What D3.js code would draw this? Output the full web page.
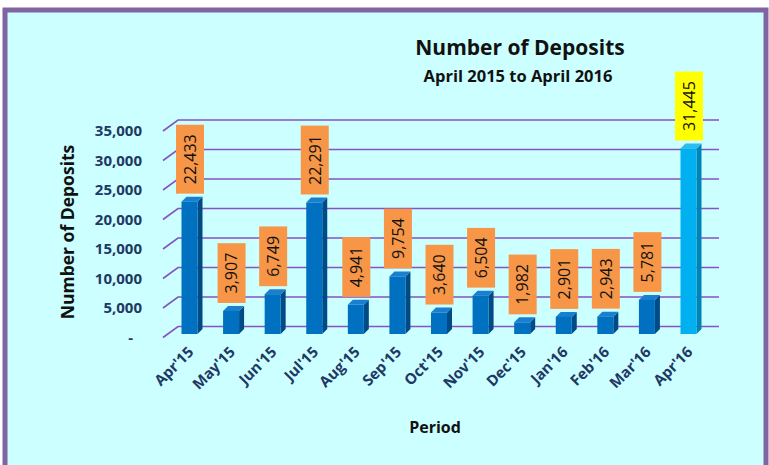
<!DOCTYPE html>
<html>
<head>
<meta charset="utf-8">
<script src="https://cdn.jsdelivr.net/npm/d3@7"></script>
<style>
  body { margin: 0; background: #fff; }
  svg { display: block; font-family: "Open Sans", sans-serif; }
</style>
</head>
<body>
<svg width="769" height="465"></svg>
<script>
// data
var months = ["Apr'15", "May'15", "Jun'15", "Jul'15", "Aug'15", "Sep'15", "Oct'15",
              "Nov'15", "Dec'15", "Jan'16", "Feb'16", "Mar'16", "Apr'16"];
var deposits = [22433, 3907, 6749, 22291, 4941, 9754, 3640, 6504, 1982, 2901, 2943, 5781, 31445];
var yTicks = [0, 5000, 10000, 15000, 20000, 25000, 30000, 35000];

var data = months.map(function (m, i) { return { month: m, value: deposits[i], last: i === months.length - 1 }; });

var svg = d3.select("svg");

// frame
svg.append("rect")
  .attr("x", 5).attr("y", 10)
  .attr("width", 761).attr("height", 470)
  .attr("fill", "#ccffff")
  .attr("stroke", "#8064a2").attr("stroke-width", 5);

var xScale = d3.scalePoint().domain(months).range([189.5, 688.5]);
var yScale = d3.scaleLinear().domain([0, 35000]).range([326.5, 120]);

var fmt = d3.format(",");
var depthX = 15, depthY = 11; // wall slant

// gridlines on back wall + slant on side wall
var grid = svg.append("g");
yTicks.forEach(function (t) {
  var y = yScale(t);
  grid.append("path")
    .attr("d", "M" + (178 - depthX) + "," + (y + depthY) + "L178," + y + "L719," + y)
    .attr("fill", "none")
    .attr("stroke", "#8553c2")
    .attr("stroke-width", 1.6);
});

// y axis labels (front plane)
svg.append("g").selectAll("text")
  .data(yTicks)
  .enter().append("text")
  .attr("x", function (d) { return d === 0 ? 133 : 142; })
  .attr("y", function (d) { return yScale(d) + depthY; })
  .attr("dy", "0.35em")
  .attr("text-anchor", "end")
  .attr("font-size", 15)
  .attr("font-weight", "bold")
  .attr("fill", "#1f3864")
  .text(function (d) { return d === 0 ? "-" : fmt(d); });

// bars as 3d columns
var bw = 16, sd = 5, off = 7.5;
var bars = svg.append("g").selectAll("g")
  .data(data)
  .enter().append("g");

bars.append("path") // side
  .attr("d", function (d) {
    var cx = xScale(d.month), yt = yScale(d.value) + off, yb = yScale(0) + off;
    return "M" + (cx + bw / 2) + "," + yt + "L" + (cx + bw / 2 + sd) + "," + (yt - sd) +
      "L" + (cx + bw / 2 + sd) + "," + (yb - sd) + "L" + (cx + bw / 2) + "," + yb + "Z";
  })
  .attr("fill", function (d) { return d.last ? "#0083b5" : "#004b85"; });

bars.append("path") // top
  .attr("d", function (d) {
    var cx = xScale(d.month), yt = yScale(d.value) + off;
    return "M" + (cx - bw / 2) + "," + yt + "L" + (cx + bw / 2) + "," + yt +
      "L" + (cx + bw / 2 + sd) + "," + (yt - sd) + "L" + (cx - bw / 2 + sd) + "," + (yt - sd) + "Z";
  })
  .attr("fill", function (d) { return d.last ? "#2bbdf0" : "#1a7fcf"; });

bars.append("rect") // front
  .attr("x", function (d) { return xScale(d.month) - bw / 2; })
  .attr("y", function (d) { return yScale(d.value) + off; })
  .attr("width", bw)
  .attr("height", function (d) { return yScale(0) - yScale(d.value); })
  .attr("fill", function (d) { return d.last ? "#00b0f0" : "#0070c0"; });

// data label boxes
var labels = svg.append("g").selectAll("g")
  .data(data)
  .enter().append("g")
  .attr("transform", function (d) { return "translate(" + (xScale(d.month) + 0.5) + "," + (yScale(d.value) - 0.5) + ")"; });

labels.append("rect").attr("class", "box");
labels.append("text")
  .attr("transform", "rotate(-90)")
  .attr("dy", "0.36em")
  .attr("text-anchor", "middle")
  .attr("font-size", 16)
  .attr("fill", "#111")
  .text(function (d) { return fmt(d.value); });

labels.each(function (d) {
  var g = d3.select(this);
  var len = g.select("text").node().getComputedTextLength();
  var h = len + 19;
  g.select("rect")
    .attr("x", -14).attr("y", -h)
    .attr("width", 28).attr("height", h)
    .attr("fill", d.last ? "#ffff00" : "#f79646");
  g.select("text").attr("x", h / 2);
});

// x labels
svg.append("g").selectAll("text")
  .data(months)
  .enter().append("text")
  .attr("transform", function (d) { return "translate(" + (xScale(d) + 5) + ",353) rotate(-45)"; })
  .attr("text-anchor", "end")
  .attr("font-size", 15)
  .attr("font-weight", "bold")
  .attr("fill", "#1f3864")
  .text(function (d) { return d; });

// titles
svg.append("text")
  .attr("x", 520).attr("y", 55)
  .attr("text-anchor", "middle")
  .attr("font-size", 21).attr("font-weight", "bold").attr("fill", "#111")
  .text("Number of Deposits");
svg.append("text")
  .attr("x", 518).attr("y", 82)
  .attr("text-anchor", "middle")
  .attr("font-size", 16.5).attr("font-weight", "bold").attr("fill", "#111")
  .text("April 2015 to April 2016");
svg.append("text")
  .attr("transform", "translate(74,232) rotate(-90)")
  .attr("text-anchor", "middle")
  .attr("font-size", 17.5).attr("font-weight", "bold").attr("fill", "#111")
  .text("Number of Deposits");
svg.append("text")
  .attr("x", 435).attr("y", 433)
  .attr("text-anchor", "middle")
  .attr("font-size", 16).attr("font-weight", "bold").attr("fill", "#111")
  .text("Period");
</script>
</body>
</html>
